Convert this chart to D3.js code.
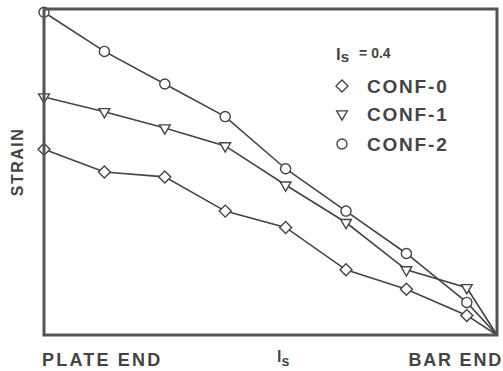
<!DOCTYPE html>
<html>
<head>
<meta charset="utf-8">
<script src="https://cdn.jsdelivr.net/npm/d3@7"></script>
<style>
  body { margin: 0; background: #fff; }
  text { font-family: "Liberation Sans", Arial, sans-serif; font-weight: bold; fill: #444; }
</style>
</head>
<body>
<div id="chart"></div>
<script>
// positions along the bar, plate end (0) to bar end (7.5)
var positions = [0, 1, 2, 3, 4, 5, 6, 7, 7.5];
var conf0 = [0.57, 0.50, 0.485, 0.38, 0.33, 0.20, 0.14, 0.06, 0];
var conf1 = [0.73, 0.685, 0.635, 0.58, 0.46, 0.345, 0.20, 0.145, 0];
var conf2 = [0.99, 0.87, 0.77, 0.67, 0.51, 0.38, 0.25, 0.10, 0];
var seriesNames = ["CONF-0", "CONF-1", "CONF-2"];
var seriesValues = [conf0, conf1, conf2];

var ink = "#444";
var width = 503, height = 371;
var margin = {top: 9, right: 6, bottom: 36, left: 44};

var svg = d3.select("#chart")
    .append("svg")
    .attr("width", width)
    .attr("height", height);

var x = d3.scaleLinear()
    .domain([0, 7.5])
    .range([margin.left, width - margin.right]);

var y = d3.scaleLinear()
    .domain([0, 1])
    .range([height - margin.bottom, margin.top]);

var symbolFor = [
    d3.symbol().type(d3.symbolSquare).size(72),
    d3.symbol().type(d3.symbolTriangle).size(50),
    d3.symbol().type(d3.symbolCircle).size(80)
];
var rotateFor = [45, 180, 0];

var line = d3.line()
    .x(function(d) { return x(d[0]); })
    .y(function(d) { return y(d[1]); });

seriesValues.forEach(function(vals, s) {
    var pts = positions.map(function(p, i) { return [p, vals[i]]; });

    svg.append("path")
        .datum(pts)
        .attr("d", line)
        .attr("fill", "none")
        .attr("stroke", ink)
        .attr("stroke-width", 1.6);

    // no marker on the bar end point
    svg.selectAll(".m" + s)
        .data(pts.slice(0, pts.length - 1))
        .enter()
        .append("path")
        .attr("class", "m" + s)
        .attr("d", symbolFor[s])
        .attr("transform", function(d) {
            return "translate(" + x(d[0]) + "," + y(d[1]) + ") rotate(" + rotateFor[s] + ")";
        })
        .attr("fill", "#fff")
        .attr("stroke", ink)
        .attr("stroke-width", 1.4);
});

// frame
svg.append("rect")
    .attr("x", x(0))
    .attr("y", y(1))
    .attr("width", x(7.5) - x(0))
    .attr("height", y(0) - y(1))
    .attr("fill", "none")
    .attr("stroke", "#555")
    .attr("stroke-width", 3);

// axis labels
svg.append("text")
    .attr("x", 42)
    .attr("y", 366)
    .attr("font-size", 18)
    .attr("letter-spacing", 2.2)
    .text("PLATE END");

svg.append("text")
    .attr("x", 503)
    .attr("y", 366)
    .attr("text-anchor", "end")
    .attr("font-size", 18)
    .attr("letter-spacing", 1.8)
    .text("BAR END");

var xl = svg.append("text")
    .attr("x", 277)
    .attr("y", 362)
    .attr("font-size", 16);
xl.append("tspan").text("l");
xl.append("tspan").attr("dy", 4).attr("font-size", 14).text("s");

svg.append("text")
    .attr("transform", "translate(23,162) rotate(-90)")
    .attr("text-anchor", "middle")
    .attr("font-size", 16)
    .attr("letter-spacing", 1.5)
    .text("STRAIN");

// legend
var lh = svg.append("text")
    .attr("x", 336)
    .attr("y", 60)
    .attr("font-size", 17);
lh.append("tspan").text("l");
lh.append("tspan").attr("dy", 2).attr("font-size", 15).text("s");
lh.append("tspan").attr("dx", 10).attr("dy", -4).attr("font-size", 14).text("= 0.4");

var legendY = [86, 114, 144];
seriesNames.forEach(function(name, s) {
    svg.append("path")
        .attr("d", symbolFor[s])
        .attr("transform", "translate(342," + legendY[s] + ") rotate(" + rotateFor[s] + ")")
        .attr("fill", "#fff")
        .attr("stroke", ink)
        .attr("stroke-width", 1.4);
    svg.append("text")
        .attr("x", 367)
        .attr("y", legendY[s] + 7)
        .attr("font-size", 19)
        .attr("letter-spacing", 1.8)
        .text(name);
});
</script>
</body>
</html>
